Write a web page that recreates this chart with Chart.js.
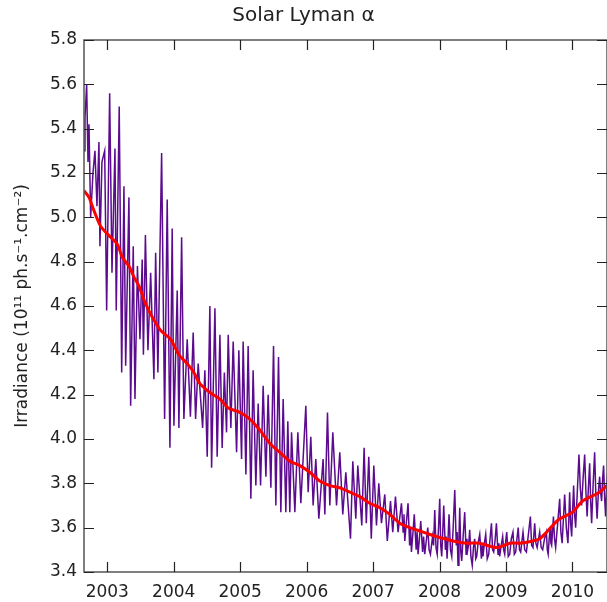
<!DOCTYPE html>
<html>
<head>
<meta charset="utf-8">
<script src="https://cdn.jsdelivr.net/npm/chart.js@4.4.1/dist/chart.umd.min.js"></script>
<style>
  html, body { margin: 0; padding: 0; background: #fff; }
  #wrap { width: 607px; height: 602px; }
</style>
</head>
<body>
<div id="wrap"><canvas id="chart1" width="607" height="602"></canvas></div>
<script>
// Daily Lyman alpha irradiance.
// Part A: 2002.65 - 2007.4 (big rotational swings)
const lyaYearsA = [
  2002.650, 2002.665, 2002.690, 2002.710, 2002.725, 2002.750, 2002.785, 2002.815, 2002.845, 2002.875,
  2002.890, 2002.920, 2002.961, 2002.991, 2003.036, 2003.071, 2003.116, 2003.135, 2003.180, 2003.217,
  2003.251, 2003.277, 2003.326, 2003.352, 2003.391, 2003.417, 2003.454, 2003.492, 2003.526, 2003.544,
  2003.574, 2003.612, 2003.653, 2003.702, 2003.728, 2003.762, 2003.818, 2003.863, 2003.902, 2003.943,
  2003.977, 2004.003, 2004.053, 2004.078, 2004.119, 2004.153, 2004.203, 2004.251, 2004.293, 2004.329,
  2004.368, 2004.435, 2004.469, 2004.504, 2004.544, 2004.570, 2004.620, 2004.654, 2004.695, 2004.729,
  2004.762, 2004.795, 2004.820, 2004.860, 2004.895, 2004.946, 2004.980, 2005.021, 2005.045, 2005.086,
  2005.120, 2005.161, 2005.195, 2005.236, 2005.271, 2005.307, 2005.346, 2005.387, 2005.421, 2005.462,
  2005.502, 2005.537, 2005.577, 2005.612, 2005.647, 2005.687, 2005.717, 2005.747, 2005.773, 2005.823,
  2005.868, 2005.913, 2005.988, 2006.023, 2006.063, 2006.098, 2006.138, 2006.184, 2006.248, 2006.274,
  2006.314, 2006.349, 2006.394, 2006.450, 2006.499, 2006.544, 2006.590, 2006.660, 2006.695, 2006.740,
  2006.770, 2006.830, 2006.865, 2006.898, 2006.935, 2006.973, 2007.011, 2007.051, 2007.086, 2007.126,
  2007.176, 2007.214, 2007.262, 2007.296, 2007.337, 2007.376
];
const lyaValuesA = [
  5.30, 5.45, 5.60, 5.25, 5.42, 5.00, 5.20, 5.30, 5.05, 5.34,
  4.87, 5.25, 5.30, 4.58, 5.56, 4.75, 5.31, 4.58, 5.50, 4.30,
  5.14, 4.33, 5.09, 4.15, 4.87, 4.18, 4.78, 4.45, 4.81, 4.38,
  4.92, 4.40, 4.75, 4.27, 4.84, 4.30, 5.29, 4.09, 5.08, 3.96,
  4.95, 4.06, 4.67, 4.05, 4.91, 4.09, 4.45, 4.10, 4.48, 4.09,
  4.34, 4.05, 4.31, 3.92, 4.60, 3.87, 4.59, 3.92, 4.47, 3.96,
  4.30, 4.03, 4.47, 4.05, 4.44, 3.94, 4.40, 3.91, 4.44, 3.84,
  4.42, 3.73, 4.31, 3.79, 4.16, 3.79, 4.24, 3.83, 4.20, 3.78,
  4.42, 3.70, 4.37, 3.67, 4.18, 3.67, 4.08, 3.67, 4.03, 3.67,
  4.03, 3.71, 4.15, 3.76, 4.01, 3.70, 3.91, 3.64, 3.91, 3.66,
  4.12, 3.70, 4.03, 3.70, 3.94, 3.66, 3.85, 3.55, 3.90, 3.64,
  3.88, 3.61, 3.96, 3.62, 3.92, 3.55, 3.88, 3.61, 3.80, 3.62,
  3.75, 3.54, 3.72, 3.58, 3.74, 3.58
];

// Part B: 2007.4 - 2010.5 (minimum, noisy band)
const lyaYearsB = [
  2007.427, 2007.452, 2007.465, 2007.477, 2007.500, 2007.526, 2007.550, 2007.565, 2007.577, 2007.598,
  2007.620, 2007.648, 2007.662, 2007.677, 2007.697, 2007.717, 2007.745, 2007.760, 2007.777, 2007.800,
  2007.823, 2007.843, 2007.863, 2007.895, 2007.910, 2007.928, 2007.947, 2007.965, 2007.985, 2008.003,
  2008.018, 2008.033, 2008.048, 2008.063, 2008.088, 2008.100, 2008.113, 2008.128, 2008.143, 2008.165,
  2008.184, 2008.205, 2008.229, 2008.252, 2008.265, 2008.278, 2008.292, 2008.304, 2008.320, 2008.334,
  2008.355, 2008.379, 2008.400, 2008.412, 2008.424, 2008.440, 2008.454, 2008.472, 2008.492, 2008.510,
  2008.529, 2008.545, 2008.559, 2008.580, 2008.605, 2008.630, 2008.642, 2008.654, 2008.675, 2008.695,
  2008.718, 2008.740, 2008.760, 2008.781, 2008.798, 2008.815, 2008.835, 2008.856, 2008.880, 2008.893,
  2008.905, 2008.928, 2008.950, 2008.965, 2008.981, 2008.996, 2009.011, 2009.034, 2009.056, 2009.080,
  2009.105, 2009.125, 2009.146, 2009.165, 2009.184, 2009.203, 2009.221, 2009.240, 2009.256, 2009.282,
  2009.307, 2009.337, 2009.367, 2009.386, 2009.406, 2009.420, 2009.432, 2009.450, 2009.469, 2009.490,
  2009.507, 2009.530, 2009.552, 2009.580, 2009.608, 2009.622, 2009.635, 2009.650, 2009.665, 2009.676,
  2009.687, 2009.700, 2009.714, 2009.730, 2009.747, 2009.778, 2009.808, 2009.826, 2009.845, 2009.864,
  2009.883, 2009.908, 2009.932, 2009.945, 2009.958, 2009.973, 2009.988, 2010.003, 2010.018, 2010.033,
  2010.048, 2010.073, 2010.098, 2010.118, 2010.138, 2010.160, 2010.184, 2010.203, 2010.221, 2010.240,
  2010.259, 2010.274, 2010.289, 2010.312, 2010.334, 2010.352, 2010.371, 2010.390, 2010.409, 2010.424,
  2010.439, 2010.454, 2010.469, 2010.484, 2010.499, 2010.515, 2010.529
];
const lyaValuesB = [
  3.71, 3.58, 3.66, 3.54, 3.62, 3.71, 3.52, 3.60, 3.49, 3.57,
  3.66, 3.50, 3.58, 3.48, 3.55, 3.63, 3.49, 3.56, 3.48, 3.54,
  3.60, 3.50, 3.48, 3.56, 3.52, 3.68, 3.51, 3.48, 3.60, 3.73,
  3.52, 3.47, 3.58, 3.70, 3.50, 3.56, 3.46, 3.55, 3.66, 3.50,
  3.47, 3.60, 3.77, 3.52, 3.58, 3.43, 3.55, 3.69, 3.49, 3.45,
  3.56, 3.67, 3.48, 3.55, 3.50, 3.53, 3.59, 3.47, 3.43, 3.51,
  3.55, 3.46, 3.47, 3.53, 3.57, 3.46, 3.52, 3.47, 3.53, 3.57,
  3.46, 3.48, 3.55, 3.62, 3.50, 3.49, 3.54, 3.62, 3.48, 3.53,
  3.47, 3.52, 3.56, 3.50, 3.48, 3.54, 3.58, 3.47, 3.48, 3.55,
  3.58, 3.48, 3.49, 3.55, 3.60, 3.50, 3.49, 3.54, 3.58, 3.50,
  3.49, 3.57, 3.65, 3.52, 3.51, 3.57, 3.62, 3.53, 3.51, 3.55,
  3.58, 3.51, 3.50, 3.55, 3.58, 3.50, 3.48, 3.55, 3.60, 3.53,
  3.52, 3.58, 3.65, 3.55, 3.51, 3.62, 3.73, 3.58, 3.53, 3.64,
  3.75, 3.60, 3.53, 3.63, 3.76, 3.62, 3.56, 3.68, 3.79, 3.66,
  3.60, 3.76, 3.93, 3.78, 3.70, 3.82, 3.93, 3.76, 3.65, 3.78,
  3.89, 3.72, 3.62, 3.80, 3.94, 3.75, 3.64, 3.76, 3.83, 3.76,
  3.72, 3.82, 3.88, 3.74, 3.65, 3.78, 3.85
];

// smoothed curve (red)
const smoothYears = [
  2002.650, 2002.725, 2002.800, 2002.901, 2003.051, 2003.150, 2003.226, 2003.326, 2003.402, 2003.477,
  2003.577, 2003.677, 2003.803, 2003.953, 2004.078, 2004.203, 2004.304, 2004.394, 2004.544, 2004.695,
  2004.820, 2004.995, 2005.146, 2005.296, 2005.447, 2005.597, 2005.747, 2005.898, 2006.048, 2006.198,
  2006.349, 2006.499, 2006.650, 2006.800, 2006.950, 2007.101, 2007.251, 2007.402, 2007.552, 2007.752,
  2007.953, 2008.203, 2008.405, 2008.605, 2008.856, 2009.056, 2009.206, 2009.402, 2009.507, 2009.612,
  2009.702, 2009.808, 2010.003, 2010.153, 2010.409, 2010.514
];
const smoothValues = [
  5.12, 5.09, 5.03, 4.96, 4.91, 4.88, 4.82, 4.78, 4.73, 4.69,
  4.61, 4.55, 4.49, 4.45, 4.38, 4.34, 4.30, 4.25, 4.21, 4.18,
  4.14, 4.12, 4.09, 4.04, 3.98, 3.94, 3.90, 3.88, 3.85, 3.81,
  3.79, 3.78, 3.76, 3.74, 3.71, 3.69, 3.66, 3.62, 3.60, 3.58,
  3.56, 3.54, 3.53, 3.53, 3.51, 3.53, 3.53, 3.54, 3.55, 3.58,
  3.61, 3.64, 3.67, 3.72, 3.76, 3.79
];

const yearTicks = [2003, 2004, 2005, 2006, 2007, 2008, 2009, 2010];
const irrTicks = [3.4, 3.6, 3.8, 4.0, 4.2, 4.4, 4.6, 4.8, 5.0, 5.2, 5.4, 5.6, 5.8];

const lyaYears = lyaYearsA.concat(lyaYearsB);
const lyaValues = lyaValuesA.concat(lyaValuesB);
const toPoints = (xs, ys) => xs.map((x, i) => ({ x: x, y: ys[i] }));

// IDL style frame: box round the plot with ticks pointing inwards
const frameTicks = {
  id: 'frameTicks',
  afterDraw(chart) {
    const ctx = chart.ctx;
    const a = chart.chartArea;
    const xs = chart.scales.x;
    const ys = chart.scales.y;
    const len = 10;
    ctx.save();
    ctx.strokeStyle = '#555';
    ctx.lineWidth = 1.5;
    ctx.strokeRect(a.left, a.top, a.right - a.left, a.bottom - a.top);
    ctx.strokeStyle = '#222';
    ctx.lineWidth = 1.2;
    ctx.beginPath();
    xs.ticks.forEach(t => {
      const px = Math.round(xs.getPixelForValue(t.value)) + 0.5;
      ctx.moveTo(px, a.bottom); ctx.lineTo(px, a.bottom - len);
      ctx.moveTo(px, a.top); ctx.lineTo(px, a.top + len);
    });
    ys.ticks.forEach(t => {
      const py = Math.round(ys.getPixelForValue(t.value)) + 0.5;
      ctx.moveTo(a.left, py); ctx.lineTo(a.left + len, py);
      ctx.moveTo(a.right, py); ctx.lineTo(a.right - len, py);
    });
    ctx.stroke();
    ctx.restore();
  }
};

Chart.defaults.font.family = '"DejaVu Sans", sans-serif';
Chart.defaults.color = '#222';

new Chart(document.getElementById('chart1'), {
  type: 'line',
  data: {
    datasets: [
      {
        label: 'smoothed',
        data: toPoints(smoothYears, smoothValues),
        borderColor: '#ff0000',
        borderWidth: 3,
        pointRadius: 0,
        tension: 0.3,
        order: 0
      },
      {
        label: 'Lyman alpha',
        data: toPoints(lyaYears, lyaValues),
        borderColor: '#5c0a8e',
        borderWidth: 1.5,
        pointRadius: 0,
        tension: 0,
        order: 1
      }
    ]
  },
  options: {
    responsive: false,
    animation: false,
    devicePixelRatio: 1,
    layout: { padding: 0 },
    plugins: {
      legend: { display: false },
      tooltip: { enabled: false },
      title: {
        display: true,
        text: 'Solar Lyman \u03b1',
        font: { size: 20, weight: 'normal' },
        padding: { top: 4, bottom: 12 }
      }
    },
    scales: {
      x: {
        type: 'linear',
        min: 2002.65,
        max: 2010.52,
        afterBuildTicks: s => { s.ticks = yearTicks.map(v => ({ value: v })); },
        afterFit: s => { s.height = 30; },
        grid: { display: false, drawTicks: false },
        border: { display: false },
        ticks: {
          padding: 10,
          font: { size: 17 },
          callback: v => String(v)
        }
      },
      y: {
        type: 'linear',
        min: 3.4,
        max: 5.8,
        afterBuildTicks: s => { s.ticks = irrTicks.map(v => ({ value: v })); },
        afterFit: s => { s.width = 84; },
        grid: { display: false, drawTicks: false },
        border: { display: false },
        ticks: {
          padding: 7,
          font: { size: 17 },
          callback: v => v.toFixed(1)
        },
        title: {
          display: true,
          text: 'Irradiance (10\u00b9\u00b9 ph.s\u207b\u00b9.cm\u207b\u00b2)',
          font: { size: 17 },
          padding: { top: 12, bottom: 0 }
        }
      }
    }
  },
  plugins: [frameTicks]
});
</script>
</body>
</html>
